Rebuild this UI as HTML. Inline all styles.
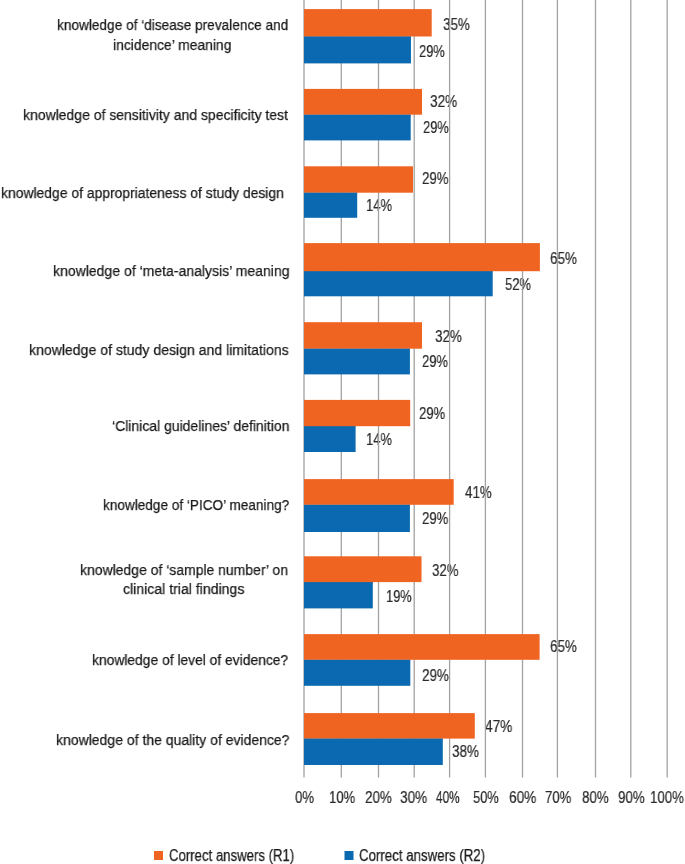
<!DOCTYPE html>
<html><head><meta charset="utf-8"><style>
html,body{margin:0;padding:0;background:#fff;}
body{width:685px;height:864px;position:relative;overflow:hidden;font-family:"Liberation Sans",sans-serif;color:#1a1a1a;}
.t{position:absolute;white-space:nowrap;line-height:1;transform-origin:0 0;will-change:transform;-webkit-text-stroke:0.25px #1a1a1a;}
.d{-webkit-text-stroke:0.2px #2a2a2a;color:#2a2a2a;}
</style></head><body>
<div class="t" style="left:56.60px;top:16.75px;font-size:15.3px;transform:scaleX(0.8920)">knowledge of ‘disease prevalence and</div>
<div class="t" style="left:113.00px;top:36.75px;font-size:15.3px;transform:scaleX(0.9079)">incidence’ meaning</div>
<div class="t" style="left:23.20px;top:107.05px;font-size:15.3px;transform:scaleX(0.9138)">knowledge of sensitivity and specificity test</div>
<div class="t" style="left:0.90px;top:184.95px;font-size:15.3px;transform:scaleX(0.9087)">knowledge of appropriateness of study design</div>
<div class="t" style="left:52.60px;top:263.35px;font-size:15.3px;transform:scaleX(0.9168)">knowledge of ‘meta-analysis’ meaning</div>
<div class="t" style="left:28.50px;top:342.05px;font-size:15.3px;transform:scaleX(0.9197)">knowledge of study design and limitations</div>
<div class="t" style="left:111.70px;top:418.35px;font-size:15.3px;transform:scaleX(0.9135)">‘Clinical guidelines’ definition</div>
<div class="t" style="left:102.90px;top:497.45px;font-size:15.3px;transform:scaleX(0.8888)">knowledge of ‘PICO’ meaning?</div>
<div class="t" style="left:79.70px;top:561.75px;font-size:15.3px;transform:scaleX(0.9130)">knowledge of ‘sample number’ on</div>
<div class="t" style="left:122.60px;top:580.55px;font-size:15.3px;transform:scaleX(0.9210)">clinical trial findings</div>
<div class="t" style="left:92.00px;top:652.05px;font-size:15.3px;transform:scaleX(0.9046)">knowledge of level of evidence?</div>
<div class="t" style="left:55.60px;top:732.05px;font-size:15.3px;transform:scaleX(0.9151)">knowledge of the quality of evidence?</div>
<div class="t d" style="left:443.10px;top:16.86px;font-size:16px;transform:scaleX(0.8402)">35%</div>
<div class="t d" style="left:419.20px;top:43.56px;font-size:16px;transform:scaleX(0.8058)">29%</div>
<div class="t d" style="left:429.80px;top:93.96px;font-size:16px;transform:scaleX(0.8496)">32%</div>
<div class="t d" style="left:422.70px;top:120.06px;font-size:16px;transform:scaleX(0.8058)">29%</div>
<div class="t d" style="left:421.80px;top:171.26px;font-size:16px;transform:scaleX(0.8277)">29%</div>
<div class="t d" style="left:366.00px;top:197.56px;font-size:16px;transform:scaleX(0.8152)">14%</div>
<div class="t d" style="left:549.80px;top:250.66px;font-size:16px;transform:scaleX(0.8433)">65%</div>
<div class="t d" style="left:505.10px;top:276.86px;font-size:16px;transform:scaleX(0.8121)">52%</div>
<div class="t d" style="left:434.70px;top:329.26px;font-size:16px;transform:scaleX(0.8402)">32%</div>
<div class="t d" style="left:422.00px;top:353.76px;font-size:16px;transform:scaleX(0.8121)">29%</div>
<div class="t d" style="left:418.80px;top:406.26px;font-size:16px;transform:scaleX(0.8183)">29%</div>
<div class="t d" style="left:366.20px;top:431.86px;font-size:16px;transform:scaleX(0.8121)">14%</div>
<div class="t d" style="left:465.30px;top:484.56px;font-size:16px;transform:scaleX(0.8340)">41%</div>
<div class="t d" style="left:421.90px;top:510.86px;font-size:16px;transform:scaleX(0.8215)">29%</div>
<div class="t d" style="left:431.80px;top:562.56px;font-size:16px;transform:scaleX(0.8277)">32%</div>
<div class="t d" style="left:385.70px;top:588.86px;font-size:16px;transform:scaleX(0.8027)">19%</div>
<div class="t d" style="left:550.00px;top:638.86px;font-size:16px;transform:scaleX(0.8402)">65%</div>
<div class="t d" style="left:421.60px;top:667.66px;font-size:16px;transform:scaleX(0.8402)">29%</div>
<div class="t d" style="left:484.70px;top:718.86px;font-size:16px;transform:scaleX(0.8527)">47%</div>
<div class="t d" style="left:451.60px;top:743.96px;font-size:16px;transform:scaleX(0.8433)">38%</div>
<div class="t d" style="left:294.60px;top:790.36px;font-size:16px;transform:scaleX(0.8218)">0%</div>
<div class="t d" style="left:328.80px;top:790.36px;font-size:16px;transform:scaleX(0.8183)">10%</div>
<div class="t d" style="left:365.30px;top:790.36px;font-size:16px;transform:scaleX(0.8402)">20%</div>
<div class="t d" style="left:400.30px;top:790.36px;font-size:16px;transform:scaleX(0.8496)">30%</div>
<div class="t d" style="left:436.00px;top:790.36px;font-size:16px;transform:scaleX(0.7371)">40%</div>
<div class="t d" style="left:472.50px;top:790.36px;font-size:16px;transform:scaleX(0.8027)">50%</div>
<div class="t d" style="left:509.20px;top:790.36px;font-size:16px;transform:scaleX(0.8527)">60%</div>
<div class="t d" style="left:544.70px;top:790.36px;font-size:16px;transform:scaleX(0.8215)">70%</div>
<div class="t d" style="left:582.00px;top:790.36px;font-size:16px;transform:scaleX(0.8340)">80%</div>
<div class="t d" style="left:617.50px;top:790.36px;font-size:16px;transform:scaleX(0.8340)">90%</div>
<div class="t d" style="left:649.50px;top:790.36px;font-size:16px;transform:scaleX(0.8283)">100%</div>
<div class="t" style="left:169.30px;top:847.66px;font-size:16px;transform:scaleX(0.8235)">Correct answers (R1)</div>
<div class="t" style="left:358.50px;top:847.66px;font-size:16px;transform:scaleX(0.8294)">Correct answers (R2)</div>
<svg width="685" height="864" style="position:absolute;left:0;top:0">
<rect x="303.35" y="0.00" width="1.30" height="777.50" fill="#a2a2a2"/>
<rect x="340.65" y="0.00" width="1.30" height="777.50" fill="#a2a2a2"/>
<rect x="377.85" y="0.00" width="1.30" height="777.50" fill="#a2a2a2"/>
<rect x="413.55" y="0.00" width="1.30" height="777.50" fill="#a2a2a2"/>
<rect x="448.95" y="0.00" width="1.30" height="777.50" fill="#a2a2a2"/>
<rect x="484.75" y="0.00" width="1.30" height="777.50" fill="#a2a2a2"/>
<rect x="521.85" y="0.00" width="1.30" height="777.50" fill="#a2a2a2"/>
<rect x="556.75" y="0.00" width="1.30" height="777.50" fill="#a2a2a2"/>
<rect x="594.85" y="0.00" width="1.30" height="777.50" fill="#a2a2a2"/>
<rect x="630.15" y="0.00" width="1.30" height="777.50" fill="#a2a2a2"/>
<rect x="666.55" y="0.00" width="1.30" height="777.50" fill="#a2a2a2"/>
<rect x="304.00" y="9.10" width="127.70" height="27.40" fill="#F06422"/>
<rect x="304.00" y="36.40" width="106.95" height="1.10" fill="#F06422"/>
<rect x="304.00" y="36.50" width="106.95" height="26.90" fill="#0A69B0"/>
<rect x="304.00" y="88.90" width="118.00" height="25.80" fill="#F06422"/>
<rect x="304.00" y="114.60" width="106.70" height="1.10" fill="#F06422"/>
<rect x="304.00" y="114.70" width="106.70" height="25.70" fill="#0A69B0"/>
<rect x="304.00" y="166.30" width="109.00" height="26.40" fill="#F06422"/>
<rect x="304.00" y="192.60" width="53.20" height="1.10" fill="#F06422"/>
<rect x="304.00" y="192.70" width="53.20" height="25.10" fill="#0A69B0"/>
<rect x="304.00" y="243.10" width="235.90" height="28.10" fill="#F06422"/>
<rect x="304.00" y="271.10" width="188.70" height="1.10" fill="#F06422"/>
<rect x="304.00" y="271.20" width="188.70" height="25.10" fill="#0A69B0"/>
<rect x="304.00" y="322.20" width="118.00" height="26.50" fill="#F06422"/>
<rect x="304.00" y="348.60" width="105.90" height="1.10" fill="#F06422"/>
<rect x="304.00" y="348.70" width="105.90" height="25.70" fill="#0A69B0"/>
<rect x="304.00" y="399.90" width="106.20" height="26.30" fill="#F06422"/>
<rect x="304.00" y="426.10" width="51.60" height="1.10" fill="#F06422"/>
<rect x="304.00" y="426.20" width="51.60" height="25.80" fill="#0A69B0"/>
<rect x="304.00" y="479.10" width="149.70" height="25.70" fill="#F06422"/>
<rect x="304.00" y="504.70" width="105.90" height="1.10" fill="#F06422"/>
<rect x="304.00" y="504.80" width="105.90" height="27.20" fill="#0A69B0"/>
<rect x="304.00" y="556.30" width="117.50" height="25.80" fill="#F06422"/>
<rect x="304.00" y="582.00" width="68.80" height="1.10" fill="#F06422"/>
<rect x="304.00" y="582.10" width="68.80" height="26.30" fill="#0A69B0"/>
<rect x="304.00" y="634.10" width="235.60" height="25.70" fill="#F06422"/>
<rect x="304.00" y="659.70" width="106.30" height="1.10" fill="#F06422"/>
<rect x="304.00" y="659.80" width="106.30" height="26.00" fill="#0A69B0"/>
<rect x="304.00" y="713.10" width="170.80" height="25.50" fill="#F06422"/>
<rect x="304.00" y="738.50" width="138.80" height="1.10" fill="#F06422"/>
<rect x="304.00" y="738.60" width="138.80" height="26.40" fill="#0A69B0"/>
<rect x="154.00" y="851.00" width="9.00" height="9.00" fill="#F06422"/>
<rect x="344.50" y="851.00" width="9.00" height="9.00" fill="#0A69B0"/>
</svg>
</body></html>
